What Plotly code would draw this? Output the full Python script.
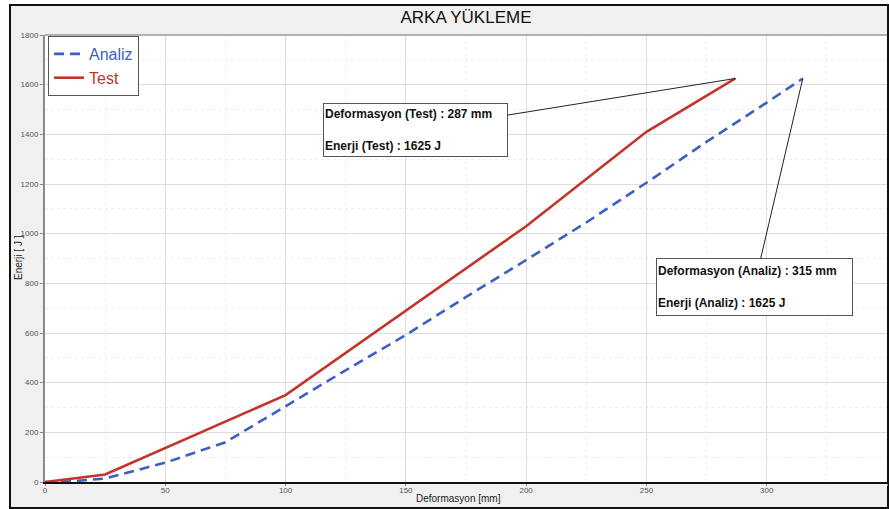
import plotly.graph_objects as go

# Data
deform_test = [0, 25, 100, 200, 250, 287]
energy_test = [0, 30, 350, 1030, 1410, 1625]

deform_analiz = [0, 10, 25, 50, 75, 100, 125, 150, 175, 200, 225, 250, 275, 300, 315]
energy_analiz = [0, 2, 14, 78, 160, 306, 450, 592, 745, 894, 1045, 1205, 1370, 1528, 1625]

x_ticks = [0, 50, 100, 150, 200, 250, 300, 350]
y_ticks = [0, 200, 400, 600, 800, 1000, 1200, 1400, 1600, 1800]

title_text = "ARKA YÜKLEME"
x_title = "Deformasyon [mm]"
y_title = "Enerji [ J ]"
note_test = "<b>Deformasyon (Test) : 287 mm</b><br><br><b>Enerji (Test) : 1625 J</b>"
note_analiz = "<b>Deformasyon (Analiz) : 315 mm</b><br><br><b>Enerji (Analiz) : 1625 J</b>"

BLUE = "#3b5fc4"
RED = "#c3352b"
W, H = 889, 509
L, R, T, B = 45, 2, 35, 27
PW, PH = W - L - R, H - T - B


def px_x(p):
    return (p - L) / PW


def px_y(p):
    return (H - B - p) / PH


def dx(p):
    return (p - L) / PW * 350


def dy(p):
    return (H - B - p) / PH * 1800


fig = go.Figure()
fig.add_trace(go.Scatter(
    x=deform_analiz, y=energy_analiz, mode="lines",
    name="<span style='color:%s'>Analiz</span>" % BLUE,
    line=dict(color=BLUE, width=2.6, dash="10px,6px"),
))
fig.add_trace(go.Scatter(
    x=deform_test, y=energy_test, mode="lines",
    name="<span style='color:%s'>Test</span>" % RED,
    line=dict(color=RED, width=2.6),
))

tickfont = dict(family="Liberation Sans Narrow, Liberation Sans, Arial", size=8, color="#555555")

fig.update_layout(
    width=W, height=H,
    margin=dict(l=L, r=R, t=T, b=B, autoexpand=False),
    paper_bgcolor="white",
    plot_bgcolor="rgba(0,0,0,0)",
    font=dict(family="Liberation Sans, Arial", color="#222222"),
    showlegend=True,
    title=dict(text=title_text, x=466 / W, xanchor="center", xref="container",
               y=1 - 17 / H, yanchor="middle", yref="container",
               font=dict(size=17, color="#111111", family="Liberation Sans, Arial")),
    legend=dict(x=px_x(48), y=px_y(36), xanchor="left", yanchor="top",
                bgcolor="white", bordercolor="#555555", borderwidth=1,
                font=dict(size=16, family="Liberation Sans, Arial"),
                itemwidth=30, tracegroupgap=0),
    xaxis=dict(range=[0, 350], tickvals=x_ticks, ticks="outside", ticklen=2,
               tickcolor="#888888", tickfont=tickfont, showline=True,
               linecolor="#111111", linewidth=1.5, showgrid=True,
               gridcolor="#dedede", gridwidth=1, zeroline=False,
               ticklabelstandoff=-2,
               minor=dict(dtick=25, showgrid=True, gridcolor="#eeeeee", griddash="dot")),
    yaxis=dict(range=[0, 1800], tickvals=y_ticks, ticks="outside", ticklen=3,
               tickcolor="#888888", tickfont=tickfont, showline=True,
               linecolor="#8a8a8a", linewidth=2, showgrid=True,
               gridcolor="#dedede", gridwidth=1, zeroline=False,
               minor=dict(dtick=100, showgrid=True, gridcolor="#eeeeee", griddash="dot")),
    shapes=[
        dict(type="rect", xref="paper", yref="paper", layer="below",
             x0=px_x(10), x1=px_x(888), y0=px_y(508), y1=px_y(5),
             fillcolor="#f0f0f0", line=dict(color="#111111", width=2)),
        dict(type="rect", xref="paper", yref="paper", layer="below",
             x0=0, x1=1, y0=0, y1=1,
             fillcolor="white", line=dict(width=0)),
        dict(type="line", xref="paper", yref="paper",
             x0=0, x1=1, y0=1, y1=1, line=dict(color="#9a9a9a", width=1.5)),
    ],
    annotations=[
        dict(text=y_title, xref="paper", yref="paper", x=px_x(18), y=px_y(257),
             xanchor="center", yanchor="middle",
             textangle=-90, showarrow=False, font=dict(size=10, color="#222222")),
        dict(text=x_title, xref="paper", yref="paper", x=px_x(458), y=px_y(498),
             xanchor="center", yanchor="middle",
             showarrow=False, font=dict(size=10, color="#222222")),
        dict(text=note_test, x=287, y=1625, xref="x", yref="y",
             axref="x", ayref="y", ax=dx(415), ay=dy(130),
             showarrow=True, arrowhead=0, arrowwidth=1, arrowcolor="#222222",
             align="left", width=181, height=50, bgcolor="white",
             bordercolor="#555555", borderwidth=1, borderpad=1,
             font=dict(size=12, color="#111111")),
        dict(text=note_analiz, x=315, y=1625, xref="x", yref="y",
             axref="x", ayref="y", ax=dx(754), ay=dy(287),
             showarrow=True, arrowhead=0, arrowwidth=1, arrowcolor="#222222",
             align="left", width=193, height=54, bgcolor="white",
             bordercolor="#555555", borderwidth=1, borderpad=1,
             font=dict(size=12, color="#111111")),
    ],
)

fig.write_html("out.html", config={"displayModeBar": False},
               post_script="document.body.style.margin='0';")
